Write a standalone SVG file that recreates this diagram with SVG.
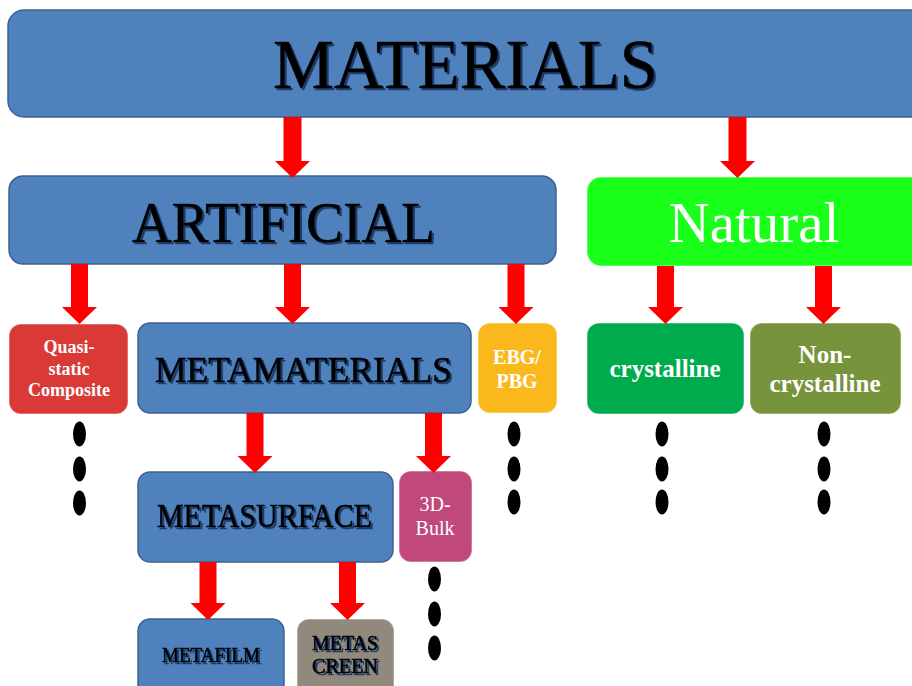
<svg xmlns="http://www.w3.org/2000/svg" width="912" height="686" viewBox="0 0 912 686">
  <defs>
    <filter id="tshadow" x="-5%" y="-20%" width="110%" height="140%">
      <feOffset in="SourceAlpha" dx="1.6" dy="1.6" result="off"/>
      <feFlood flood-color="#1e3a66"/>
      <feComposite in2="off" operator="in" result="sh"/>
      <feMerge>
        <feMergeNode in="sh"/>
        <feMergeNode in="SourceGraphic"/>
      </feMerge>
    </filter>
  </defs>
  <style>
    .blue { fill: #4f81bd; stroke: #3b6292; stroke-width: 1.5; }
    .box { stroke: #ffffff; stroke-opacity: 0.35; stroke-width: 1.5; }
    .deco { font-family: "Liberation Serif", "DejaVu Serif", serif; font-weight: normal; fill: #000000; stroke: #000000; stroke-width: 0.6; filter: url(#tshadow); }
    .wb { font-family: "Liberation Serif", "Times New Roman", serif; font-weight: bold; fill: #ffffff; text-anchor: middle; }
    .wr { font-family: "Liberation Serif", "Times New Roman", serif; fill: #ffffff; text-anchor: middle; }
    .arrow { fill: #ff0000; }
    .dot { fill: #000000; }
  </style>

  <g id="materials">
    <rect class="blue" x="8" y="10" width="930" height="107" rx="16"/>
    <text class="deco" x="273" y="88" font-size="70" textLength="385" lengthAdjust="spacingAndGlyphs">MATERIALS</text>
  </g>

  <g id="artificial">
    <rect class="blue" x="9" y="176" width="547" height="88" rx="14"/>
    <text class="deco" x="132" y="242" font-size="56" textLength="303" lengthAdjust="spacingAndGlyphs">ARTIFICIAL</text>
  </g>

  <g id="natural">
    <rect class="box" x="587" y="177" width="350" height="89" rx="14" fill="#1aff1a"/>
    <text class="wr" x="754" y="242" font-size="57">Natural</text>
  </g>

  <g id="quasi-static-composite">
    <rect class="box" x="9" y="324" width="119" height="90" rx="12" fill="#d93a36"/>
    <text class="wb" x="69" y="353" font-size="18">Quasi-</text>
    <text class="wb" x="69" y="375" font-size="18">static</text>
    <text class="wb" x="69" y="396" font-size="18">Composite</text>
  </g>

  <g id="metamaterials">
    <rect class="blue" x="138" y="323" width="333" height="90" rx="12"/>
    <text class="deco" x="155" y="382" font-size="36" textLength="297" lengthAdjust="spacingAndGlyphs">METAMATERIALS</text>
  </g>

  <g id="ebg-pbg">
    <rect class="box" x="478" y="323" width="79" height="90" rx="12" fill="#fab81c"/>
    <text class="wb" x="517" y="364" font-size="20">EBG/</text>
    <text class="wb" x="517" y="388" font-size="20">PBG</text>
  </g>

  <g id="crystalline">
    <rect class="box" x="587" y="323" width="157" height="91" rx="12" fill="#00ab4e"/>
    <text class="wb" x="665" y="377" font-size="25">crystalline</text>
  </g>

  <g id="non-crystalline">
    <rect class="box" x="750" y="323" width="151" height="91" rx="12" fill="#77933c"/>
    <text class="wb" x="825" y="363" font-size="25">Non-</text>
    <text class="wb" x="825" y="392" font-size="25">crystalline</text>
  </g>

  <g id="metasurface">
    <rect class="blue" x="138" y="472" width="255" height="90" rx="12"/>
    <text class="deco" x="157" y="527" font-size="33" textLength="215" lengthAdjust="spacingAndGlyphs">METASURFACE</text>
  </g>

  <g id="bulk-3d">
    <rect class="box" x="399" y="471" width="73" height="91" rx="12" fill="#c0487a"/>
    <text class="wr" x="435" y="511" font-size="20">3D-</text>
    <text class="wr" x="435" y="535" font-size="20">Bulk</text>
  </g>

  <g id="metafilm">
    <rect class="blue" x="138" y="619" width="146" height="90" rx="12"/>
    <text class="deco" x="162" y="662" font-size="21" textLength="98" lengthAdjust="spacingAndGlyphs">METAFILM</text>
  </g>

  <g id="metascreen">
    <rect class="box" x="297" y="619" width="97" height="90" rx="12" fill="#918a7c"/>
    <text class="deco" x="312" y="650" font-size="20" textLength="66" lengthAdjust="spacingAndGlyphs">METAS</text>
    <text class="deco" x="312" y="673" font-size="20" textLength="66" lengthAdjust="spacingAndGlyphs">CREEN</text>
  </g>

  <g id="connectors">
    <path class="arrow" d="M283.5,117 H301.5 V161 H310 L292.5,178 L275,161 H283.5 Z"/>
    <path class="arrow" d="M728.5,117 H746.5 V161 H755 L737.5,178 L720,161 H728.5 Z"/>
    <path class="arrow" d="M71,264 H88 V307 H97 L79.5,324 L62,307 H71 Z"/>
    <path class="arrow" d="M284,264 H301 V307 H310 L292.5,324 L275,307 H284 Z"/>
    <path class="arrow" d="M507.5,264 H524.5 V307 H533.5 L516,324 L498.5,307 H507.5 Z"/>
    <path class="arrow" d="M657,266 H674 V307 H683 L665.5,324 L648,307 H657 Z"/>
    <path class="arrow" d="M815,266 H832 V307 H841 L823.5,324 L806,307 H815 Z"/>
    <path class="arrow" d="M246.5,413 H263.5 V456 H272.5 L255,473 L237.5,456 H246.5 Z"/>
    <path class="arrow" d="M425,413 H442 V456 H451 L433.5,473 L416,456 H425 Z"/>
    <path class="arrow" d="M199.5,562 H216.5 V603 H225.5 L208,620 L190.5,603 H199.5 Z"/>
    <path class="arrow" d="M339,562 H356 V603 H365 L347.5,620 L330,603 H339 Z"/>
  </g>

  <g id="ellipsis-dots">
    <ellipse class="dot" cx="79.5" cy="434" rx="6.5" ry="12.5"/>
    <ellipse class="dot" cx="79.5" cy="469" rx="6.5" ry="12.5"/>
    <ellipse class="dot" cx="79.5" cy="503" rx="6.5" ry="12.5"/>
    <ellipse class="dot" cx="514" cy="434" rx="6.5" ry="12.5"/>
    <ellipse class="dot" cx="514" cy="469" rx="6.5" ry="12.5"/>
    <ellipse class="dot" cx="514" cy="502" rx="6.5" ry="12.5"/>
    <ellipse class="dot" cx="662" cy="434" rx="6.5" ry="12.5"/>
    <ellipse class="dot" cx="662" cy="469" rx="6.5" ry="12.5"/>
    <ellipse class="dot" cx="662" cy="502" rx="6.5" ry="12.5"/>
    <ellipse class="dot" cx="824" cy="434" rx="6.5" ry="12.5"/>
    <ellipse class="dot" cx="824" cy="469" rx="6.5" ry="12.5"/>
    <ellipse class="dot" cx="824" cy="502" rx="6.5" ry="12.5"/>
    <ellipse class="dot" cx="434.5" cy="579" rx="6.5" ry="12.5"/>
    <ellipse class="dot" cx="434.5" cy="614" rx="6.5" ry="12.5"/>
    <ellipse class="dot" cx="434.5" cy="648" rx="6.5" ry="12.5"/>
  </g>
</svg>
